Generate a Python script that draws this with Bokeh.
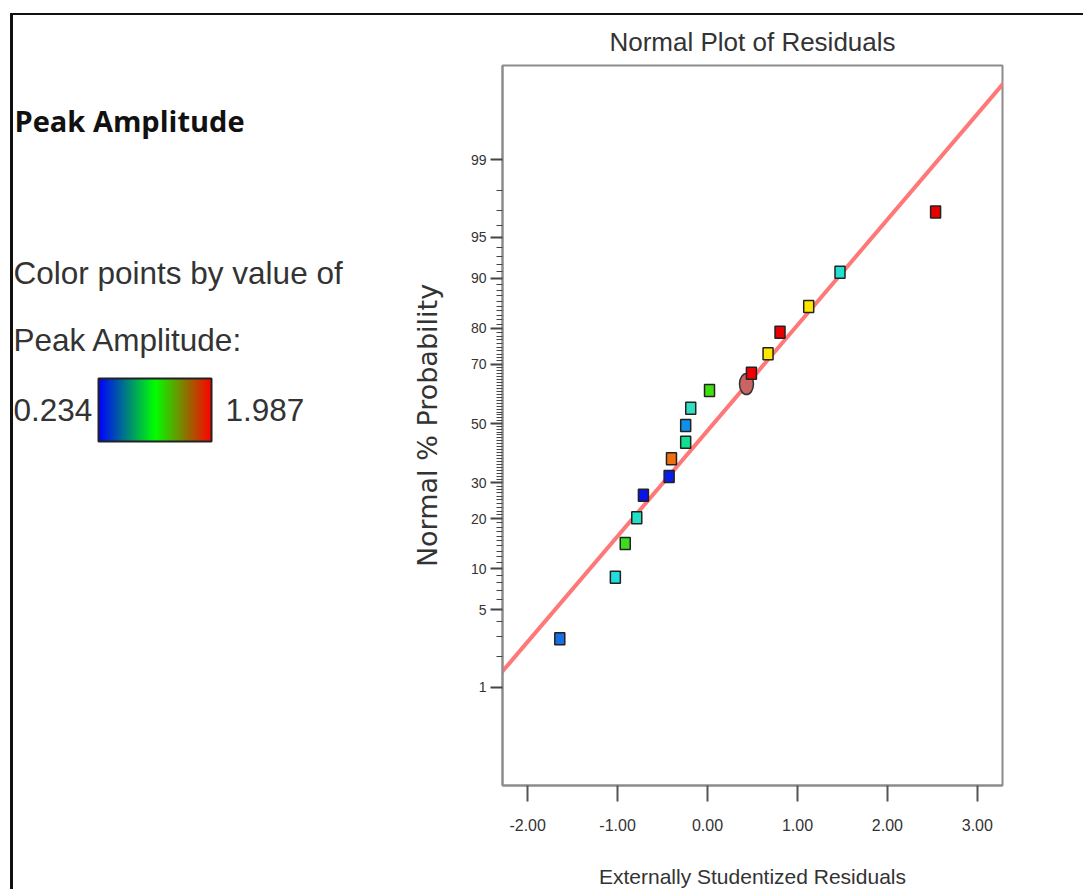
from statistics import NormalDist
import numpy as np
from bokeh.plotting import figure
from bokeh.layouts import row
from bokeh.models import (FixedTicker, PrintfTickFormatter, LinearColorMapper,
                          ColumnDataSource, Range1d)
from bokeh.core.properties import value
from bokeh.embed import file_html
from bokeh.resources import INLINE

# ---------------- data ----------------
residuals = [-1.643, -1.025, -0.915, -0.787, -0.713, -0.427, -0.401, -0.243, -0.243,
             -0.187, 0.022, 0.488, 0.673, 0.806, 1.125, 1.473, 2.536]
normal_pct = [2.87, 8.74, 14.5, 20.3, 26.3, 32.0, 37.8, 43.4, 49.3,
              55.4, 61.5, 67.1, 73.1, 79.0, 84.9, 90.9, 96.9]
point_colors = ["#1a6fe0", "#22dddd", "#3ddc1e", "#22e0c8", "#0a14e6", "#0a1ee6",
                "#f07010", "#10e090", "#1090e8", "#30e0c0", "#40e010", "#f00000",
                "#ffe800", "#e80000", "#ffe800", "#22e0d0", "#e80000"]
highlight_x = [0.433]
highlight_pct = [63.6]
fit_x = [-2.3, 3.3]
fit_pct = [1.37, 99.87]
x_ticks = [-2, -1, 0, 1, 2, 3]
y_tick_pct = [1, 5, 10, 20, 30, 50, 70, 80, 90, 95, 99]
y_minor_pct = [p for p in range(2, 99) if p not in y_tick_pct]
legend_min, legend_max = 0.234, 1.987

nd = NormalDist()
def probit(p):
    return nd.inv_cdf(p / 100.0)

SANS = "Liberation Sans"
TXT = "#333333"
H = 876

# ---------------- main plot ----------------
p = figure(width=678, height=H, x_range=Range1d(-2.28, 3.28), y_range=Range1d(-3.195, 3.160),
           output_backend="svg", toolbar_location=None, title="Normal Plot of Residuals",
           min_border_left=90, min_border_right=84, min_border_top=50, min_border_bottom=106)
p.background_fill_color = "white"
p.border_fill_color = "white"
p.outline_line_color = "#8c8c8c"
p.outline_line_width = 2
p.xgrid.visible = False
p.ygrid.visible = False

p.title.align = "center"
p.title.text_font = SANS
p.title.text_font_size = "26px"
p.title.text_font_style = "normal"
p.title.text_color = TXT
p.title.standoff = 17

# x axis
p.xaxis.ticker = FixedTicker(ticks=x_ticks, minor_ticks=[])
p.xaxis.formatter = PrintfTickFormatter(format="%.2f")
p.xaxis.axis_label = "Externally Studentized Residuals"
p.xaxis.axis_label_text_font = SANS
p.xaxis.axis_label_text_font_size = "21px"
p.xaxis.axis_label_text_font_style = "normal"
p.xaxis.axis_label_text_color = TXT
p.xaxis.axis_label_standoff = 31
p.xaxis.major_label_text_font = SANS
p.xaxis.major_label_text_font_size = "16px"
p.xaxis.major_label_text_color = TXT
p.xaxis.major_label_standoff = 17
p.xaxis.major_tick_out = 16
p.xaxis.major_tick_in = 0
p.xaxis.major_tick_line_color = "#555555"
p.xaxis.major_tick_line_width = 2
p.xaxis.axis_line_color = "#8c8c8c"
p.xaxis.axis_line_width = 2

# y axis (normal probability scale)
major_z = [probit(v) for v in y_tick_pct]
minor_z = [probit(v) for v in y_minor_pct]
p.yaxis.ticker = FixedTicker(ticks=major_z, minor_ticks=minor_z)
p.yaxis.major_label_overrides = {z: str(v) for z, v in zip(major_z, y_tick_pct)}
p.yaxis.axis_label = "Normal % Probability"
p.yaxis.axis_label_text_font = "DejaVu Sans"
p.yaxis.axis_label_text_font_size = "27px"
p.yaxis.axis_label_text_font_style = "normal"
p.yaxis.axis_label_text_color = TXT
p.yaxis.axis_label_standoff = 25
p.yaxis.major_label_text_font = SANS
p.yaxis.major_label_text_font_size = "14px"
p.yaxis.major_label_text_color = TXT
p.yaxis.major_label_standoff = 4
p.yaxis.major_tick_out = 12
p.yaxis.major_tick_in = 0
p.yaxis.minor_tick_out = 6
p.yaxis.minor_tick_in = 0
p.yaxis.major_tick_line_color = "#444444"
p.yaxis.major_tick_line_width = 2
p.yaxis.minor_tick_line_color = "#444444"
p.yaxis.minor_tick_line_width = 1
p.yaxis.axis_line_color = "#8c8c8c"
p.yaxis.axis_line_width = 2

# fit line
p.line(fit_x, [probit(v) for v in fit_pct], line_color="#ff7878", line_width=4)

# highlighted point (ellipse)
p.ellipse(x=highlight_x, y=[probit(v) for v in highlight_pct], width=14, height=21,
          width_units="screen", height_units="screen",
          fill_color="#c86464", line_color="#333333", line_width=1.5)

src = ColumnDataSource(dict(x=residuals, z=[probit(v) for v in normal_pct], c=point_colors))
p.rect(x="x", y="z", width=10, height=12, width_units="screen", height_units="screen",
       fill_color="c", line_color="#222222", line_width=1.5, source=src)

# ---------------- left legend panel (frame aligned with the plot frame) ----------------
L = figure(width=395, height=H, x_range=Range1d(13, 408), y_range=Range1d(785, 65),
           output_backend="svg", toolbar_location=None, x_axis_type=None, y_axis_type=None,
           min_border_left=0, min_border_right=0, min_border_top=50, min_border_bottom=106)
L.outline_line_color = None
L.xgrid.visible = False
L.ygrid.visible = False
L.background_fill_color = "white"
L.border_fill_color = "white"

L.text(x=[14], y=[120], text=["Peak Amplitude"], text_font=value("Open Sans"),
       text_font_style="bold", text_font_size="29px", text_color="#111111",
       text_baseline="alphabetic")
L.text(x=[13], y=[272], text=["Color points by value of"], text_font=value(SANS),
       text_font_size="31.5px", text_color=TXT, text_baseline="alphabetic")
L.text(x=[13], y=[339], text=["Peak Amplitude:"], text_font=value(SANS),
       text_font_size="31.5px", text_color=TXT, text_baseline="alphabetic")
L.text(x=[13], y=[409], text=[f"{legend_min:.3f}"], text_font=value(SANS),
       text_font_size="31.5px", text_color=TXT, text_baseline="alphabetic")
L.text(x=[225], y=[409], text=[f"{legend_max:.3f}"], text_font=value(SANS),
       text_font_size="31.5px", text_color=TXT, text_baseline="alphabetic")

# gradient palette blue -> green -> red
def lerp(c1, c2, t):
    return tuple(int(round(a + (b - a) * t)) for a, b in zip(c1, c2))
pal = []
for i in range(256):
    t = i / 255
    if t <= 0.5:
        rgb = lerp((0, 0, 255), (0, 255, 0), t / 0.5)
    else:
        rgb = lerp((0, 255, 0), (255, 0, 0), (t - 0.5) / 0.5)
    pal.append("#%02x%02x%02x" % rgb)
mapper = LinearColorMapper(palette=pal, low=legend_min, high=legend_max)
grad = np.linspace(legend_min, legend_max, 256).reshape(1, 256)
L.image(image=[grad], x=98, y=378, dw=113, dh=63, color_mapper=mapper)
L.quad(left=[98], right=[211], top=[378], bottom=[441], fill_color=None,
       line_color="#222222", line_width=2)

layout = row(L, p, spacing=0,
             styles={"margin-top": "15px", "margin-left": "13px",
                     "box-shadow": "-3px -2px 0 0 #111111"})
open("out.html", "w").write(file_html(layout, INLINE))
